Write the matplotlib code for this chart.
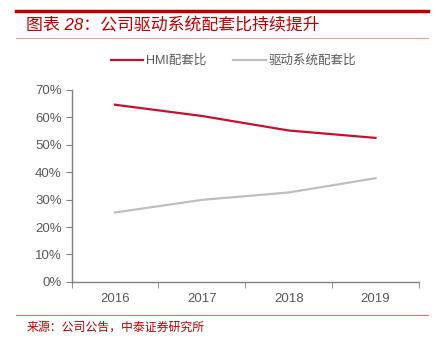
import matplotlib
matplotlib.use('Agg')
import matplotlib.pyplot as plt
from matplotlib.lines import Line2D

years = ['2016', '2017', '2018', '2019']
hmi_ratio = [64.6, 60.5, 55.2, 52.5]
drive_ratio = [25.3, 29.9, 32.6, 37.8]
y_ticks = [0, 10, 20, 30, 40, 50, 60, 70]

plt.rcParams['font.family'] = ['Liberation Sans', 'Noto Sans CJK SC', 'DejaVu Sans']

red = '#C00000'
line_red = '#C8102E'
gray_txt = '#595959'

fig = plt.figure(figsize=(4.36, 3.38), dpi=100)
ax = fig.add_axes([0.164, 0.166, 0.797, 0.568])

x = list(range(len(years)))
ax.plot(x, hmi_ratio, color=line_red, lw=1.6, label='HMI配套比')
ax.plot(x, drive_ratio, color='#BFBFBF', lw=1.6, label='驱动系统配套比')

ax.set_xlim(-0.5, len(years) - 0.5)
ax.set_ylim(0, 70)
ax.set_yticks(y_ticks)
ax.set_yticklabels(['%d%%' % v for v in y_ticks])
ax.set_xticks(x)
ax.set_xticklabels(years)
ax.set_xticks([i - 0.5 for i in range(len(years) + 1)], minor=True)
ax.tick_params(axis='x', which='major', length=0, pad=8, labelsize=9.5, labelcolor=gray_txt)
ax.tick_params(axis='x', which='minor', length=4, color='#808080', direction='out')
ax.tick_params(axis='y', length=4, color='#808080', labelsize=9.5, labelcolor=gray_txt, pad=3)
for s in ['top', 'right']:
    ax.spines[s].set_visible(False)
for s in ['left', 'bottom']:
    ax.spines[s].set_color('#808080')
    ax.spines[s].set_linewidth(1)

fig.legend(loc='center', bbox_to_anchor=(0.535, 0.82), ncol=2, frameon=False,
           fontsize=9, handlelength=2.6, columnspacing=2.2, handletextpad=0.2,
           labelcolor=gray_txt)

# header / footer decorations
fig.add_artist(Line2D([0.037, 0.982], [0.967, 0.967], color=red, lw=2.5))
fig.add_artist(Line2D([0.037, 0.982], [0.888, 0.888], color='#EE9C9C', lw=0.8))
fig.add_artist(Line2D([0.037, 0.982], [0.068, 0.068], color='#E07070', lw=0.8))
fig.text(0.06, 0.925, '图表 28：公司驱动系统配套比持续提升', color=red, fontsize=12.2,
         style='italic', va='center', ha='left')
fig.text(0.06, 0.032, '来源：公司公告，中泰证券研究所', color=red, fontsize=8.6,
         va='center', ha='left')

fig.savefig('out.png', dpi=100)
